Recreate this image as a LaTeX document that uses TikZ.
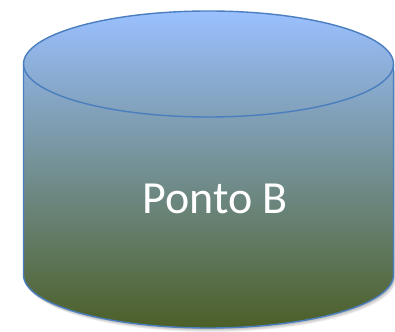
\documentclass[tikz,border=0pt]{standalone}
\usepackage{fontspec}
\setmainfont{Carlito}
\definecolor{cantop}{HTML}{9AC0FF}
\definecolor{canbot}{HTML}{4C5F27}
\definecolor{canedge}{HTML}{4A7EBF}
\tikzset{
  canshade/.style={top color=cantop, bottom color=canbot},
  canline/.style={draw=canedge, line width=1.4pt},
  shadowlayer/.style={fill=black, opacity=0.06}
}
\begin{document}
\begin{tikzpicture}[x=1pt,y=1pt]
\useasboundingbox (0,0) rectangle (395,331);
\fill[white] (0,0) rectangle (395,331);
% soft shadow
\foreach \d in {1,2,3,4,5} {
  \fill[shadowlayer] (23.5+\d*0.5,260) -- (23.5+\d*0.5,56-\d*0.8) arc[start angle=180,end angle=360,x radius=185,y radius=53] -- (393.5+\d*0.5,260) -- cycle;
}
% cylinder (shaded as a whole)
\shade[canshade] (23.5,267) -- (23.5,56) arc[start angle=180,end angle=360,x radius=185,y radius=53]
  -- (393.5,267) arc[start angle=0,end angle=180,x radius=185,y radius=53] -- cycle;
\draw[canline] (23.5,267) -- (23.5,56) arc[start angle=180,end angle=360,x radius=185,y radius=53]
  -- (393.5,267);
\draw[canline] (208.5,267) ellipse[x radius=185,y radius=53];
\node[text=white, font=\fontsize{46}{50}\selectfont, anchor=center] (label) at (215,132) {Ponto B};
\end{tikzpicture}
\end{document}
